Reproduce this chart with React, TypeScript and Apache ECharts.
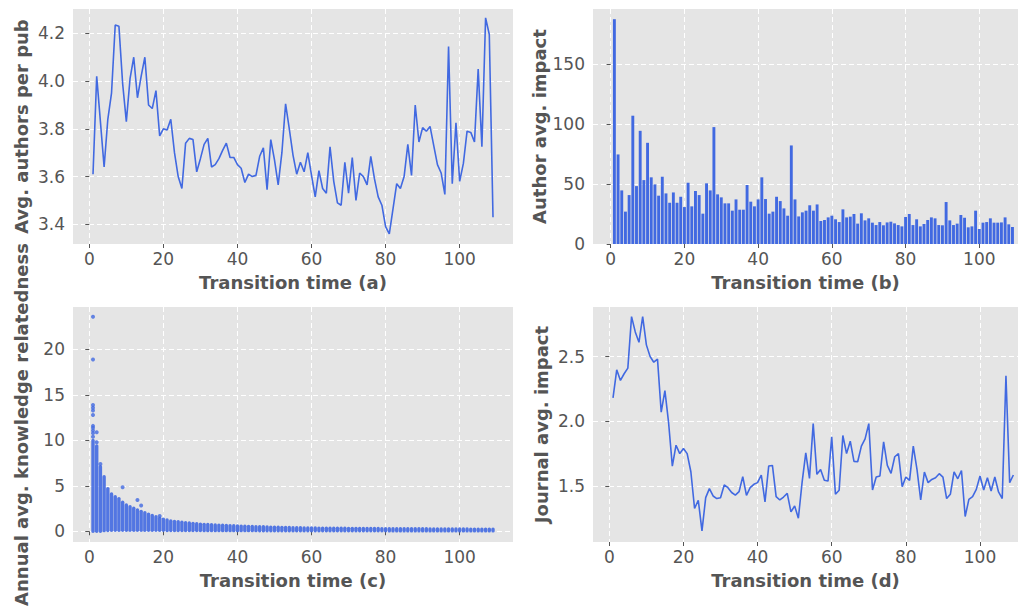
import React, { useEffect, useRef } from "react";
import * as echarts from "echarts";

const transitionTime: number[] = Array.from({ length: 109 }, (_, i) => i + 1);

const authorsPerPub: number[] = [
  3.61, 4.02, 3.83, 3.64, 3.84, 3.95, 4.235, 4.23, 3.99, 3.83,
  4.01, 4.10, 3.93, 4.02, 4.10, 3.90, 3.885, 3.96, 3.77, 3.80,
  3.795, 3.84, 3.70, 3.60, 3.55, 3.74, 3.76, 3.755, 3.62, 3.675,
  3.735, 3.76, 3.64, 3.65, 3.675, 3.71, 3.74, 3.68, 3.68, 3.65,
  3.635, 3.575, 3.61, 3.60, 3.605, 3.685, 3.72, 3.545, 3.755, 3.67,
  3.565, 3.70, 3.905, 3.80, 3.69, 3.61, 3.66, 3.62, 3.70, 3.605,
  3.515, 3.625, 3.55, 3.53, 3.725, 3.58, 3.49, 3.48, 3.66, 3.53,
  3.68, 3.50, 3.615, 3.60, 3.565, 3.685, 3.59, 3.515, 3.48, 3.39,
  3.36, 3.465, 3.57, 3.55, 3.60, 3.735, 3.605, 3.90, 3.745, 3.805,
  3.79, 3.81, 3.73, 3.65, 3.615, 3.525, 4.145, 3.57, 3.825, 3.58,
  3.655, 3.79, 3.785, 3.745, 4.05, 3.725, 4.265, 4.195, 3.43,
];

const authorImpact: number[] = [
  187.5, 74.7, 44.7, 27, 40.8, 107, 48.3, 94.4, 53.3, 84.4,
  55.6, 49.7, 40.3, 56.1, 42.2, 34.4, 43, 34.4, 39.4, 30.8,
  51.1, 31.4, 44.2, 40.8, 25.3, 50.6, 44.7, 97.5, 41.4, 38.9,
  33.9, 33.9, 27.8, 37.2, 28.6, 28.6, 49.2, 35.3, 31.4, 37.2,
  55.6, 37.5, 25.3, 27, 39.4, 35.8, 29.7, 23.6, 82.2, 37.2,
  23, 26.4, 27.8, 32.3, 27.8, 33, 19.2, 20, 22.2, 23.6,
  20.6, 18.3, 28.9, 22.2, 22.8, 25, 17, 25.6, 19.7, 21.4,
  17.8, 15.8, 18.3, 15.6, 18, 18.6, 17.2, 15.8, 14.7, 22.5,
  25, 15.8, 20.6, 14.7, 16.7, 20, 22.2, 21.4, 15.8, 15.6,
  35, 19.7, 15.8, 17, 24.2, 21.9, 13.9, 14.7, 27.8, 12.5,
  17.8, 18.3, 21.4, 17.8, 17.8, 18, 22.2, 16.4, 14.2,
];

const relatednessLow: number[] = [
  0.0, 0.0, 0.0, 0.08, 0.1, 0.12, 0.12, 0.12, 0.12, 0.12,
  0.12, 0.12, 0.12, 0.12, 0.12, 0.12, 0.12, 0.12, 0.12, 0.12,
  0.1, 0.1, 0.1, 0.1, 0.1, 0.1, 0.1, 0.1, 0.1, 0.1,
  0.08, 0.08, 0.08, 0.08, 0.08, 0.08, 0.08, 0.08, 0.08, 0.08,
  0.08, 0.08, 0.08, 0.08, 0.08, 0.07, 0.07, 0.07, 0.07, 0.07,
  0.07, 0.07, 0.07, 0.07, 0.07, 0.07, 0.07, 0.07, 0.07, 0.07,
  0.06, 0.06, 0.06, 0.06, 0.06, 0.06, 0.06, 0.06, 0.06, 0.06,
  0.06, 0.06, 0.06, 0.06, 0.06, 0.06, 0.06, 0.06, 0.06, 0.06,
  0.05, 0.05, 0.05, 0.05, 0.05, 0.05, 0.05, 0.05, 0.05, 0.05,
  0.05, 0.05, 0.05, 0.05, 0.05, 0.05, 0.05, 0.05, 0.05, 0.05,
  0.05, 0.05, 0.05, 0.05, 0.05, 0.05, 0.05, 0.05, 0.05,
];

const relatednessHigh: number[] = [
  10.0, 9.4, 7.1, 6.0, 4.7, 4.1, 3.8, 3.6, 3.2, 2.9,
  2.7, 2.55, 2.35, 2.2, 2.05, 1.9, 1.75, 1.6, 1.45, 1.35,
  1.25, 1.15, 1.1, 1.05, 1.0, 0.96, 0.92, 0.88, 0.84, 0.8,
  0.77, 0.75, 0.73, 0.71, 0.69, 0.67, 0.65, 0.63, 0.61, 0.6,
  0.58, 0.57, 0.55, 0.54, 0.52, 0.51, 0.5, 0.48, 0.47, 0.46,
  0.45, 0.44, 0.43, 0.42, 0.41, 0.4, 0.39, 0.38, 0.38, 0.37,
  0.37, 0.36, 0.36, 0.35, 0.35, 0.35, 0.34, 0.34, 0.34, 0.33,
  0.33, 0.33, 0.32, 0.32, 0.32, 0.31, 0.31, 0.31, 0.3, 0.3,
  0.3, 0.3, 0.29, 0.29, 0.29, 0.29, 0.28, 0.28, 0.28, 0.28,
  0.28, 0.27, 0.27, 0.27, 0.27, 0.27, 0.26, 0.26, 0.26, 0.26,
  0.26, 0.26, 0.25, 0.25, 0.25, 0.25, 0.25, 0.25, 0.25,
];

const relatednessOutliers: number[][] = [
  [1, 23.6], [1, 18.9], [1, 13.9], [1, 13.6], [1, 13.3], [1, 12.8],
  [1, 11.6], [1, 11.4], [1, 11.1], [1, 10.8], [1, 10.4], [2, 10.9],
  [2, 9.8], [3, 7.4], [9, 4.85], [13, 3.45], [14, 2.85], [19, 1.7],
];

const journalImpact: number[] = [
  2.18, 2.397, 2.315, 2.367, 2.41, 2.808, 2.69, 2.61, 2.808, 2.59,
  2.50, 2.456, 2.48, 2.07, 2.236, 1.987, 1.654, 1.815, 1.75, 1.79,
  1.75, 1.61, 1.326, 1.39, 1.154, 1.41, 1.48, 1.423, 1.403, 1.41,
  1.508, 1.487, 1.45, 1.43, 1.456, 1.572, 1.428, 1.487, 1.513, 1.526,
  1.585, 1.377, 1.654, 1.659, 1.418, 1.392, 1.415, 1.443, 1.30, 1.346,
  1.251, 1.526, 1.756, 1.559, 1.982, 1.59, 1.628, 1.544, 1.538, 1.88,
  1.436, 1.467, 1.89, 1.75, 1.846, 1.69, 1.687, 1.808, 1.864, 1.982,
  1.469, 1.569, 1.577, 1.841, 1.659, 1.597, 1.726, 1.75, 1.495, 1.569,
  1.544, 1.808, 1.628, 1.392, 1.608, 1.526, 1.551, 1.564, 1.595, 1.569,
  1.403, 1.436, 1.61, 1.556, 1.62, 1.264, 1.397, 1.418, 1.474, 1.577,
  1.469, 1.564, 1.462, 1.569, 1.454, 1.403, 2.351, 1.526, 1.585,
];

const xTicks: number[] = [0, 20, 40, 60, 80, 100];
const yTicksA: number[] = [3.4, 3.6, 3.8, 4.0, 4.2];
const yTicksB: number[] = [0, 50, 100, 150];
const yTicksC: number[] = [0, 5, 10, 15, 20];
const yTicksD: number[] = [1.5, 2.0, 2.5];

const FONT = "DejaVu Sans";
const BLUE = "#4169E1";
const TXT = "#555555";

function xAxisCfg(gridIndex: number, min: number, max: number, name: string) {
  return {
    type: "value",
    gridIndex,
    min,
    max,
    name,
    nameLocation: "middle",
    nameGap: 29,
    nameTextStyle: { fontSize: 18, fontWeight: "bold", color: TXT, fontFamily: FONT },
    axisLine: { show: false },
    axisTick: { show: true, length: 4, lineStyle: { color: TXT, width: 1 }, customValues: xTicks },
    axisLabel: { customValues: xTicks, fontSize: 17, color: TXT, margin: 6, fontFamily: FONT },
    splitLine: { show: true, lineStyle: { color: "#ffffff", type: [5, 3], width: 1 } },
  };
}

function yAxisCfg(
  gridIndex: number,
  min: number,
  max: number,
  name: string,
  ticks: number[],
  decimals: number
) {
  return {
    type: "value",
    gridIndex,
    min,
    max,
    name,
    nameLocation: "middle",
    nameRotate: 90,
    nameGap: 43,
    nameTextStyle: { fontSize: 18, fontWeight: "bold", color: TXT, fontFamily: FONT },
    axisLine: { show: false },
    axisTick: { show: true, length: 4, lineStyle: { color: TXT, width: 1 }, customValues: ticks },
    axisLabel: {
      customValues: ticks,
      fontSize: 17,
      color: TXT,
      margin: 8,
      fontFamily: FONT,
      formatter: (v: number) => v.toFixed(decimals),
    },
    splitLine: { show: true, lineStyle: { color: "#ffffff", type: [5, 3], width: 1 } },
  };
}

export default function App() {
  const ref = useRef<HTMLDivElement>(null);

  useEffect(() => {
    if (!ref.current) return;
    const chart = echarts.init(ref.current, undefined, { renderer: "svg" });
    const gridStyle = { show: true, backgroundColor: "#E5E5E5", borderWidth: 0 };
    const option = {
      animation: false,
      backgroundColor: "#ffffff",
      textStyle: { fontFamily: FONT },
      grid: [
        { left: 73, top: 9, width: 440, height: 235, ...gridStyle },
        { left: 593, top: 9, width: 425, height: 235, ...gridStyle },
        { left: 73, top: 307, width: 440, height: 235, ...gridStyle },
        { left: 593, top: 307, width: 425, height: 235, ...gridStyle },
      ],
      xAxis: [
        xAxisCfg(0, -4.4, 114.4, "Transition time (a)"),
        xAxisCfg(1, -4.8, 110.5, "Transition time (b)"),
        xAxisCfg(2, -4.4, 114.4, "Transition time (c)"),
        xAxisCfg(3, -4.4, 110.25, "Transition time (d)"),
      ],
      yAxis: [
        yAxisCfg(0, 3.3175, 4.302, "Avg. authors per pub", yTicksA, 1),
        yAxisCfg(1, 0, 196, "Author avg. impact", yTicksB, 0),
        yAxisCfg(2, -1.17, 24.67, "Annual avg. knowledge relatedness", yTicksC, 0),
        yAxisCfg(3, 1.0675, 2.8825, "Journal avg. impact", yTicksD, 1),
      ],
      series: [
        {
          type: "line",
          xAxisIndex: 0,
          yAxisIndex: 0,
          data: transitionTime.map((t, i) => [t, authorsPerPub[i]]),
          showSymbol: false,
          lineStyle: { color: BLUE, width: 1.6 },
        },
        {
          type: "bar",
          xAxisIndex: 1,
          yAxisIndex: 1,
          data: transitionTime.map((t, i) => [t, authorImpact[i]]),
          barWidth: 2.9,
          itemStyle: { color: BLUE },
        },
        {
          type: "custom",
          xAxisIndex: 2,
          yAxisIndex: 2,
          data: transitionTime.map((t, i) => [t, relatednessLow[i], relatednessHigh[i]]),
          encode: { x: 0, y: [1, 2] },
          renderItem: (params: any, api: any) => {
            const t = api.value(0);
            const p1 = api.coord([t, api.value(1)]);
            const p2 = api.coord([t, api.value(2)]);
            return {
              type: "line",
              shape: { x1: p1[0], y1: p1[1], x2: p2[0], y2: p2[1] },
              style: { stroke: BLUE, lineWidth: 3.4, lineCap: "round", opacity: 0.9 },
            };
          },
        },
        {
          type: "scatter",
          xAxisIndex: 2,
          yAxisIndex: 2,
          data: relatednessOutliers,
          symbolSize: 4,
          itemStyle: { color: BLUE },
        },
        {
          type: "line",
          xAxisIndex: 3,
          yAxisIndex: 3,
          data: transitionTime.map((t, i) => [t, journalImpact[i]]),
          showSymbol: false,
          lineStyle: { color: BLUE, width: 1.6 },
        },
      ],
    };
    chart.setOption(option as any);
    return () => chart.dispose();
  }, []);

  return (
    <div
      ref={ref}
      style={{ position: "absolute", left: 0, top: 0, width: 1020, height: 609 }}
    />
  );
}
